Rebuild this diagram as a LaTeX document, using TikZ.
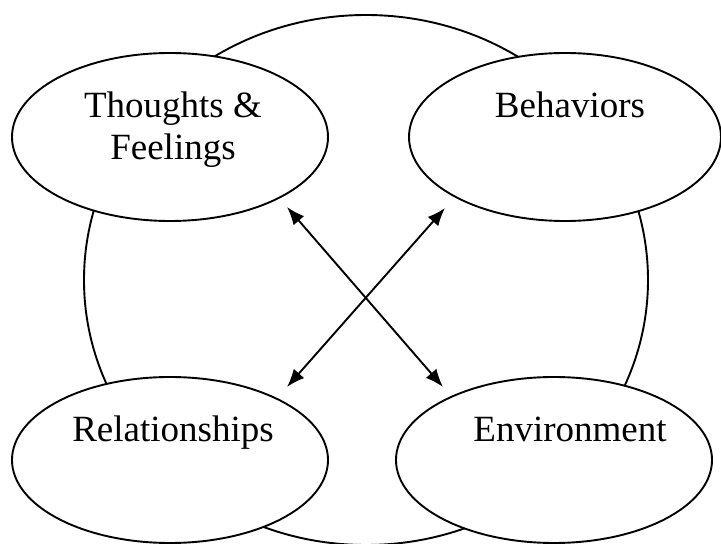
\documentclass[tikz,border=0pt]{standalone}
\usepackage{fontspec}
\setmainfont{Liberation Serif}
\usetikzlibrary{shapes.geometric,arrows.meta}
\begin{document}
\begin{tikzpicture}[x=1pt,y=1pt,
    blob/.style={draw,ellipse,line width=1.9pt,fill=white,inner sep=0pt},
    lbl/.style={font=\fontsize{37}{42}\selectfont,align=center,anchor=base,inner sep=0pt},
    link/.style={{Latex[length=18pt,width=14pt]}-{Latex[length=18pt,width=14pt]},line width=1.9pt}]
    \useasboundingbox (0,0) rectangle (721,544);

    \node[blob,minimum width=564pt,minimum height=530pt] (whole) at (366,264) {};

    \node[blob,minimum width=316pt,minimum height=168pt] (tf) at (170,407) {};
    \node[blob,minimum width=312pt,minimum height=168pt] (beh) at (565,407) {};
    \node[blob,minimum width=316pt,minimum height=166pt] (rel) at (170,84) {};
    \node[blob,minimum width=316pt,minimum height=166pt] (env) at (554,84) {};

    % base of a two-line node is its last line
    \node[lbl] (tf-txt) at (173,384) {Thoughts \&\\Feelings};
    \node[lbl] (beh-txt) at (570,426) {Behaviors};
    \node[lbl] (rel-txt) at (173,102) {Relationships};
    \node[lbl] (env-txt) at (570,102) {Environment};

    \coordinate (tf-tip) at (287,337);
    \coordinate (beh-tip) at (445,336);
    \coordinate (rel-tip) at (287,157);
    \coordinate (env-tip) at (443,157);

    \draw[link] (tf-tip) -- (env-tip);
    \draw[link] (beh-tip) -- (rel-tip);
\end{tikzpicture}
\end{document}
